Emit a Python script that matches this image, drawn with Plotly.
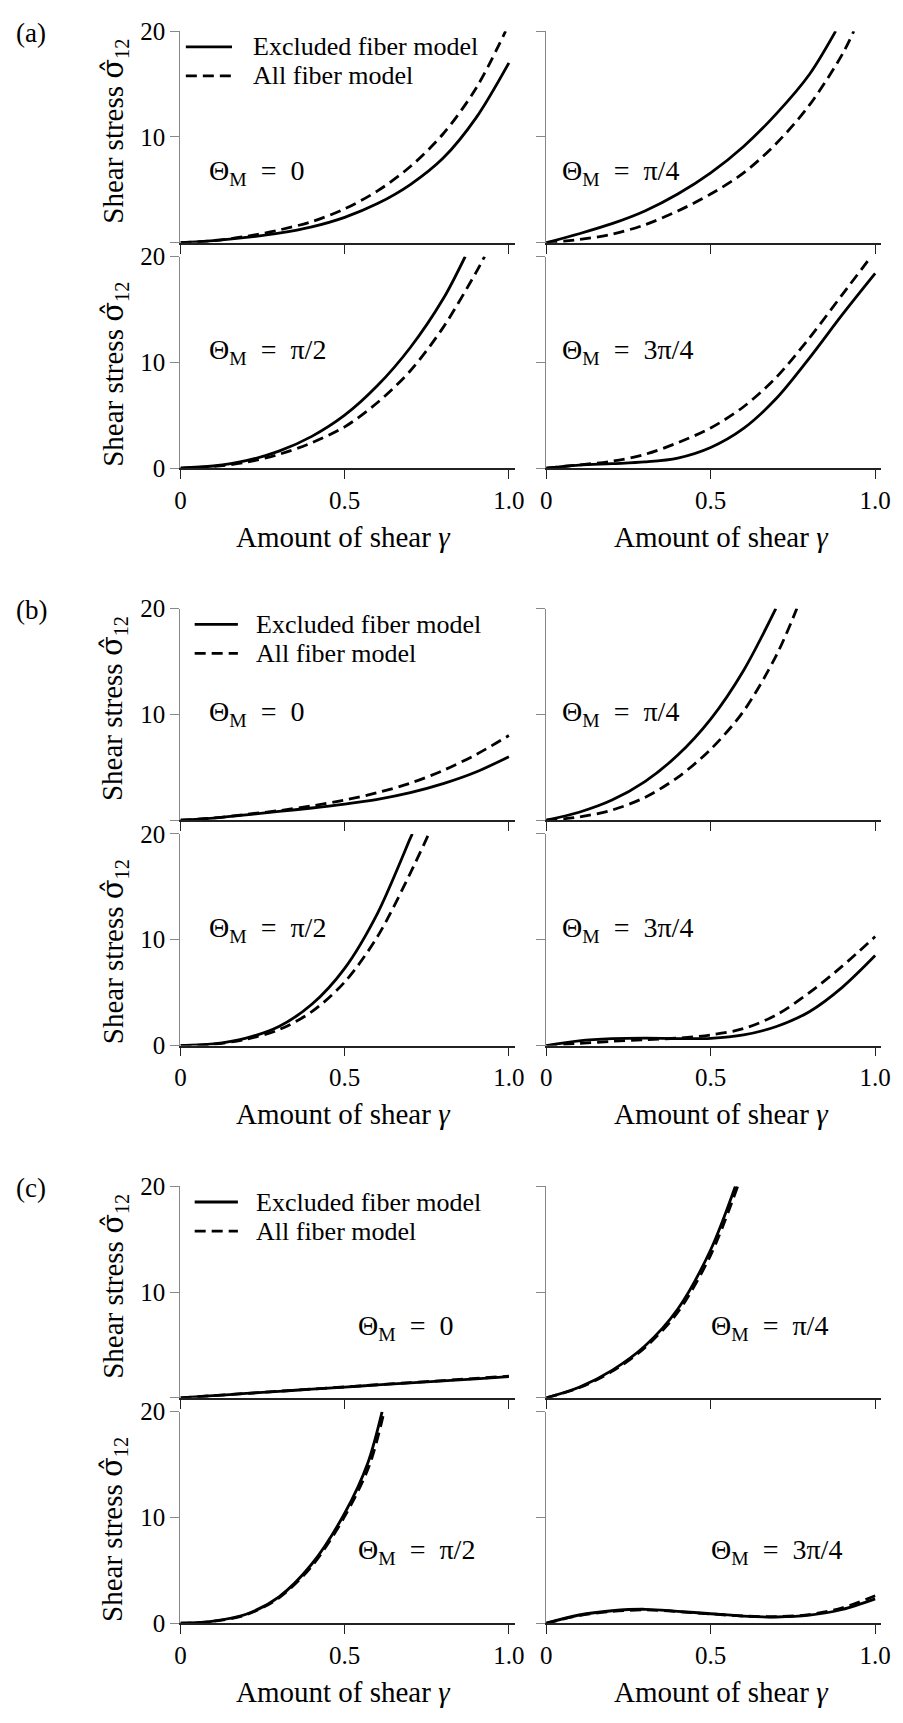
import plotly.graph_objects as go

# ---------------- data ----------------
GAMMA = [0.0, 0.1, 0.2, 0.3, 0.4, 0.5, 0.6, 0.7, 0.8, 0.9, 1.0]
X_TICKS = [0, 0.5, 1.0]
X_TICK_TEXT = ["0", "0.5", "1.0"]
Y_TICKS = [0, 10, 20]
SERIES_NAMES = ["Excluded fiber model", "All fiber model"]
BLOCK_LABELS = ["(a)", "(b)", "(c)"]
THETA_LABELS = ["0", "π/4", "π/2", "3π/4"]

# block (a)
a0_excl_x = GAMMA
a0_excl_y = [0, 0.2, 0.5, 0.9, 1.5, 2.4, 3.7, 5.5, 8.0, 11.8, 17.0]
a0_all_x = GAMMA[:10] + [0.99]
a0_all_y = [0, 0.2, 0.6, 1.2, 2.0, 3.2, 4.9, 7.2, 10.3, 14.6, 20.0]
a1_excl_x = GAMMA[:9] + [0.88]
a1_excl_y = [0, 0.85, 1.8, 3.0, 4.6, 6.6, 9.1, 12.2, 15.9, 20.0]
a1_all_x = GAMMA[:10] + [0.935]
a1_all_y = [0, 0.3, 0.8, 1.7, 3.0, 4.6, 6.6, 9.4, 13.0, 17.8, 20.0]
a2_excl_x = GAMMA[:9] + [0.867]
a2_excl_y = [0, 0.2, 0.7, 1.6, 3.0, 5.0, 7.8, 11.4, 16.0, 20.0]
a2_all_x = GAMMA[:10] + [0.926]
a2_all_y = [0, 0.15, 0.55, 1.3, 2.4, 3.9, 6.2, 9.2, 13.3, 18.5, 20.0]
a3_excl_x = GAMMA
a3_excl_y = [0, 0.28, 0.42, 0.58, 0.95, 1.95, 3.75, 6.6, 10.4, 14.5, 18.4]
a3_all_x = GAMMA[:10] + [0.988]
a3_all_y = [0, 0.3, 0.65, 1.3, 2.4, 3.8, 5.8, 8.6, 12.3, 16.4, 20.0]

# block (b)
b0_excl_x = GAMMA
b0_excl_y = [0, 0.2, 0.5, 0.82, 1.15, 1.52, 1.97, 2.6, 3.45, 4.55, 6.0]
b0_all_x = GAMMA
b0_all_y = [0, 0.2, 0.55, 0.9, 1.35, 1.9, 2.6, 3.5, 4.7, 6.2, 8.0]
b1_excl_x = GAMMA[:7] + [0.698]
b1_excl_y = [0, 0.75, 1.9, 3.65, 6.15, 9.55, 14.15, 20.0]
b1_all_x = GAMMA[:8] + [0.762]
b1_all_y = [0, 0.3, 0.95, 2.15, 4.05, 6.7, 10.3, 15.6, 20.0]
b2_excl_x = GAMMA[:8] + [0.706]
b2_excl_y = [0, 0.15, 0.7, 1.8, 3.9, 7.3, 12.5, 19.6, 20.0]
b2_all_x = GAMMA[:8] + [0.756]
b2_all_y = [0, 0.12, 0.6, 1.5, 3.2, 6.0, 10.3, 16.3, 20.0]
b3_excl_x = GAMMA
b3_excl_y = [0, 0.45, 0.65, 0.7, 0.66, 0.68, 1.0, 1.8, 3.2, 5.5, 8.5]
b3_all_x = GAMMA
b3_all_y = [0, 0.2, 0.4, 0.55, 0.7, 1.0, 1.6, 2.9, 5.0, 7.5, 10.3]

# block (c)
c0_excl_x = GAMMA
c0_excl_y = [0, 0.21, 0.42, 0.62, 0.82, 1.02, 1.22, 1.41, 1.61, 1.8, 2.0]
c0_all_x = GAMMA
c0_all_y = [0, 0.21, 0.42, 0.63, 0.83, 1.03, 1.24, 1.44, 1.64, 1.84, 2.05]
c1_excl_x = GAMMA[:6] + [0.575]
c1_excl_y = [0, 1.0, 2.6, 4.9, 8.4, 14.0, 20.0]
c1_all_x = GAMMA[:6] + [0.582]
c1_all_y = [0, 0.95, 2.5, 4.75, 8.1, 13.5, 20.0]
c2_excl_x = GAMMA[:6] + [0.57, 0.614]
c2_excl_y = [0, 0.2, 0.85, 2.5, 5.6, 10.4, 15.1, 20.0]
c2_all_x = GAMMA[:6] + [0.575, 0.62]
c2_all_y = [0, 0.18, 0.8, 2.4, 5.4, 10.1, 14.9, 20.0]
c3_excl_x = GAMMA
c3_excl_y = [0, 0.78, 1.18, 1.32, 1.13, 0.9, 0.68, 0.59, 0.76, 1.3, 2.3]
c3_all_x = GAMMA
c3_all_y = [0, 0.72, 1.12, 1.26, 1.1, 0.88, 0.68, 0.62, 0.82, 1.45, 2.6]

PANEL_DATA = [
    [(a0_excl_x, a0_excl_y, a0_all_x, a0_all_y), (a1_excl_x, a1_excl_y, a1_all_x, a1_all_y),
     (a2_excl_x, a2_excl_y, a2_all_x, a2_all_y), (a3_excl_x, a3_excl_y, a3_all_x, a3_all_y)],
    [(b0_excl_x, b0_excl_y, b0_all_x, b0_all_y), (b1_excl_x, b1_excl_y, b1_all_x, b1_all_y),
     (b2_excl_x, b2_excl_y, b2_all_x, b2_all_y), (b3_excl_x, b3_excl_y, b3_all_x, b3_all_y)],
    [(c0_excl_x, c0_excl_y, c0_all_x, c0_all_y), (c1_excl_x, c1_excl_y, c1_all_x, c1_all_y),
     (c2_excl_x, c2_excl_y, c2_all_x, c2_all_y), (c3_excl_x, c3_excl_y, c3_all_x, c3_all_y)],
]

# ---------------- layout geometry (page pixels) ----------------
PAGE_W, PAGE_H = 903, 1723
BODY_MARGIN = 8  # default <body> margin of the written html page
W, H = PAGE_W - 2 * BODY_MARGIN, PAGE_H - 2 * BODY_MARGIN
BLOCK_TOPS = [18.3, 605.0, 1192.0]
PANEL_H = 215.0
GAP = 14.0
X_DOM_PX = [(177.5, 518.0), (550.0, 891.0)]
X_RANGE = [0, 1.018]
FONT = "Liberation Serif"
DASH = "11px,6px"
LW = 2.8

THETA_POS = [
    [(205, 144), (564, 144), (205, 97), (564, 97)],
    [(205, 107), (564, 107), (205, 97), (564, 97)],
    [(356, 143), (716, 143), (356, 142), (716, 142)],
]
LEGEND_POS = [(183, 230, 249), (192, 236, 252), (192, 236, 252)]


def fx(px):
    return (px - BODY_MARGIN) / W


def fy(py):
    return 1 - (py - BODY_MARGIN) / H


fig = go.Figure()
layout = {}
annotations = []
shapes = []

idx = 0
for b in range(3):
    top = BLOCK_TOPS[b]
    for p in range(4):
        row, col = divmod(p, 2)
        idx += 1
        sfx = "" if idx == 1 else str(idx)
        y0_px = top + row * (PANEL_H + GAP)
        y1_px = y0_px + PANEL_H
        xd = X_DOM_PX[col]
        ex, ey, ax_, ay = PANEL_DATA[b][p]
        fig.add_trace(go.Scatter(x=ex, y=ey, mode="lines", name=SERIES_NAMES[0],
                                 xaxis="x" + sfx, yaxis="y" + sfx, showlegend=False,
                                 line=dict(color="black", width=LW, shape="spline", smoothing=0.9)))
        fig.add_trace(go.Scatter(x=ax_, y=ay, mode="lines", name=SERIES_NAMES[1],
                                 xaxis="x" + sfx, yaxis="y" + sfx, showlegend=False,
                                 line=dict(color="black", width=LW, dash=DASH, shape="spline", smoothing=0.9)))
        bottom_row = row == 1
        layout["xaxis" + sfx] = dict(
            domain=[fx(xd[0]), fx(xd[1])], range=X_RANGE, anchor="y" + sfx,
            showline=True, linecolor="#222", linewidth=1.6, ticks="outside", ticklen=9,
            tickwidth=1.3, tickcolor="#222", tickvals=X_TICKS, ticktext=X_TICK_TEXT,
            showticklabels=bottom_row, showgrid=False, zeroline=False,
            tickfont=dict(family=FONT, size=25, color="black"),
        )
        ytext = ["0", "10", "20"] if bottom_row else ["", "10", "20"]
        layout["yaxis" + sfx] = dict(
            domain=[fy(y1_px), fy(y0_px)], range=[0, 20], anchor="x" + sfx,
            showline=True, linecolor="#888", linewidth=1.2, ticks="outside", ticklen=9,
            tickwidth=1.2, tickcolor="#888", tickvals=Y_TICKS, ticktext=ytext,
            showticklabels=(col == 0), showgrid=False, zeroline=False,
            tickfont=dict(family=FONT, size=25, color="black"),
        )
        tx, ty = THETA_POS[b][p]
        annotations.append(dict(
            text="Θ<sub>M</sub>\u2002=\u2002" + THETA_LABELS[p], x=fx(tx), y=fy(y0_px + ty),
            xref="paper", yref="paper", xanchor="left", yanchor="middle", showarrow=False,
            font=dict(family=FONT, size=28, color="black")))
        if col == 0:
            yc = y0_px + (102 if row == 0 else 120)
            annotations.append(dict(
                text="Shear stress <span style=\"font-family:DejaVu Serif\">σ\u0302</span><sub>12</sub>",
                x=fx(110), y=fy(yc), textangle=-90,
                xref="paper", yref="paper", xanchor="center", yanchor="middle", showarrow=False,
                font=dict(family=FONT, size=29, color="black")))
        if bottom_row:
            xc = 344 if col == 0 else 729
            annotations.append(dict(
                text="Amount of shear <i>γ</i>", x=fx(xc), y=fy(y1_px + 70),
                xref="paper", yref="paper", xanchor="center", yanchor="middle", showarrow=False,
                font=dict(family=FONT, size=29, color="black")))

    annotations.append(dict(text=BLOCK_LABELS[b], x=fx(8), y=fy(top + 1.5), xref="paper", yref="paper",
                            xanchor="left", yanchor="middle", showarrow=False,
                            font=dict(family=FONT, size=27, color="black")))
    lx0, lx1, ltx = LEGEND_POS[b]
    for k, dash in enumerate(["solid", DASH]):
        yy = top + 16 + k * 29.5
        shapes.append(dict(type="line", xref="paper", yref="paper", x0=fx(lx0), x1=fx(lx1),
                           y0=fy(yy), y1=fy(yy), line=dict(color="black", width=LW, dash=dash)))
        annotations.append(dict(text=SERIES_NAMES[k], x=fx(ltx), y=fy(yy), xref="paper", yref="paper",
                                xanchor="left", yanchor="middle", showarrow=False,
                                font=dict(family=FONT, size=26, color="black")))

fig.update_layout(
    width=W, height=H, margin=dict(l=0, r=0, t=0, b=0),
    paper_bgcolor="white", plot_bgcolor="white", showlegend=False,
    font=dict(family=FONT, color="black"),
    annotations=annotations, shapes=shapes, **layout,
)

fig.write_html("out.html")
